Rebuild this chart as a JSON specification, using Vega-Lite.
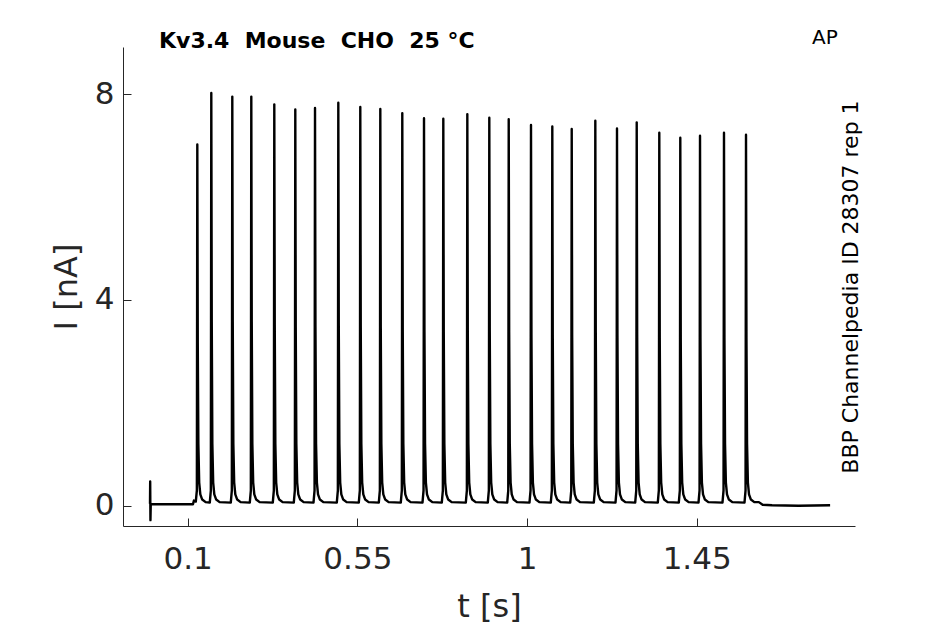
{
  "$schema": "https://vega.github.io/schema/vega-lite/v6.json",
  "autosize": "none",
  "width": 732,
  "height": 479,
  "padding": {"left": 123, "top": 47, "right": 90, "bottom": 98},
  "background": "white",
  "title": {
    "text": "Kv3.4\u00a0\u00a0Mouse\u00a0\u00a0CHO\u00a0\u00a025 °C",
    "anchor": "start",
    "frame": "group",
    "dx": 36,
    "offset": -25,
    "font": "DejaVu Sans",
    "fontSize": 22,
    "fontWeight": "bold",
    "color": "black"
  },
  "layer": [
    {
      "data": {
        "values": [
          {"t":0.0,"I":0.04},{"t":0.0005,"I":0.47},{"t":0.0012,"I":-0.28},{"t":0.002,"I":0.03},{"t":0.05,"I":0.03},{"t":0.114,"I":0.03},
          {"t":0.1165,"I":0.1},{"t":0.1215,"I":0.08},{"t":0.1243,"I":0.3},{"t":0.1255,"I":7.02},{"t":0.1267,"I":3.16},{"t":0.1283,"I":1.2},{"t":0.1305,"I":0.45},{"t":0.1335,"I":0.22},{"t":0.1385,"I":0.12},{"t":0.1475,"I":0.07},
          {"t":0.1586,"I":0.06},{"t":0.1614,"I":0.3},{"t":0.1626,"I":8.02},{"t":0.1638,"I":3.61},{"t":0.1654,"I":1.2},{"t":0.1676,"I":0.45},{"t":0.1706,"I":0.22},{"t":0.1756,"I":0.12},{"t":0.1846,"I":0.07},
          {"t":0.2143,"I":0.06},{"t":0.2171,"I":0.3},{"t":0.2183,"I":7.95},{"t":0.2195,"I":3.58},{"t":0.2211,"I":1.2},{"t":0.2233,"I":0.45},{"t":0.2263,"I":0.22},{"t":0.2313,"I":0.12},{"t":0.2403,"I":0.07},
          {"t":0.2647,"I":0.06},{"t":0.2675,"I":0.3},{"t":0.2687,"I":7.95},{"t":0.2699,"I":3.58},{"t":0.2715,"I":1.2},{"t":0.2737,"I":0.45},{"t":0.2767,"I":0.22},{"t":0.2817,"I":0.12},{"t":0.2907,"I":0.07},
          {"t":0.3257,"I":0.06},{"t":0.3285,"I":0.3},{"t":0.3297,"I":7.8},{"t":0.3309,"I":3.51},{"t":0.3325,"I":1.2},{"t":0.3347,"I":0.45},{"t":0.3377,"I":0.22},{"t":0.3427,"I":0.12},{"t":0.3517,"I":0.07},
          {"t":0.3814,"I":0.06},{"t":0.3842,"I":0.3},{"t":0.3854,"I":7.7},{"t":0.3866,"I":3.47},{"t":0.3882,"I":1.2},{"t":0.3904,"I":0.45},{"t":0.3934,"I":0.22},{"t":0.3984,"I":0.12},{"t":0.4074,"I":0.07},
          {"t":0.4337,"I":0.06},{"t":0.4365,"I":0.3},{"t":0.4377,"I":7.73},{"t":0.4389,"I":3.48},{"t":0.4405,"I":1.2},{"t":0.4427,"I":0.45},{"t":0.4457,"I":0.22},{"t":0.4507,"I":0.12},{"t":0.4597,"I":0.07},
          {"t":0.4955,"I":0.06},{"t":0.4983,"I":0.3},{"t":0.4995,"I":7.83},{"t":0.5007,"I":3.52},{"t":0.5023,"I":1.2},{"t":0.5045,"I":0.45},{"t":0.5075,"I":0.22},{"t":0.5125,"I":0.12},{"t":0.5215,"I":0.07},
          {"t":0.5538,"I":0.06},{"t":0.5566,"I":0.3},{"t":0.5578,"I":7.75},{"t":0.559,"I":3.49},{"t":0.5606,"I":1.2},{"t":0.5628,"I":0.45},{"t":0.5658,"I":0.22},{"t":0.5708,"I":0.12},{"t":0.5798,"I":0.07},
          {"t":0.6069,"I":0.06},{"t":0.6097,"I":0.3},{"t":0.6109,"I":7.71},{"t":0.6121,"I":3.47},{"t":0.6137,"I":1.2},{"t":0.6159,"I":0.45},{"t":0.6189,"I":0.22},{"t":0.6239,"I":0.12},{"t":0.6329,"I":0.07},
          {"t":0.6652,"I":0.06},{"t":0.668,"I":0.3},{"t":0.6692,"I":7.63},{"t":0.6704,"I":3.43},{"t":0.672,"I":1.2},{"t":0.6742,"I":0.45},{"t":0.6772,"I":0.22},{"t":0.6822,"I":0.12},{"t":0.6912,"I":0.07},
          {"t":0.7228,"I":0.06},{"t":0.7256,"I":0.3},{"t":0.7268,"I":7.53},{"t":0.728,"I":3.39},{"t":0.7296,"I":1.2},{"t":0.7318,"I":0.45},{"t":0.7348,"I":0.22},{"t":0.7398,"I":0.12},{"t":0.7488,"I":0.07},
          {"t":0.774,"I":0.06},{"t":0.7768,"I":0.3},{"t":0.778,"I":7.52},{"t":0.7792,"I":3.38},{"t":0.7808,"I":1.2},{"t":0.783,"I":0.45},{"t":0.786,"I":0.22},{"t":0.791,"I":0.12},{"t":0.8,"I":0.07},
          {"t":0.8377,"I":0.06},{"t":0.8405,"I":0.3},{"t":0.8417,"I":7.61},{"t":0.8429,"I":3.42},{"t":0.8445,"I":1.2},{"t":0.8467,"I":0.45},{"t":0.8497,"I":0.22},{"t":0.8547,"I":0.12},{"t":0.8637,"I":0.07},
          {"t":0.896,"I":0.06},{"t":0.8988,"I":0.3},{"t":0.9,"I":7.54},{"t":0.9012,"I":3.39},{"t":0.9028,"I":1.2},{"t":0.905,"I":0.45},{"t":0.908,"I":0.22},{"t":0.913,"I":0.12},{"t":0.922,"I":0.07},
          {"t":0.9475,"I":0.06},{"t":0.9503,"I":0.3},{"t":0.9515,"I":7.51},{"t":0.9527,"I":3.38},{"t":0.9543,"I":1.2},{"t":0.9565,"I":0.45},{"t":0.9595,"I":0.22},{"t":0.9645,"I":0.12},{"t":0.9735,"I":0.07},
          {"t":1.0066,"I":0.06},{"t":1.0094,"I":0.3},{"t":1.0106,"I":7.4},{"t":1.0118,"I":3.33},{"t":1.0134,"I":1.2},{"t":1.0156,"I":0.45},{"t":1.0186,"I":0.22},{"t":1.0236,"I":0.12},{"t":1.0326,"I":0.07},
          {"t":1.0631,"I":0.06},{"t":1.0659,"I":0.3},{"t":1.0671,"I":7.37},{"t":1.0683,"I":3.32},{"t":1.0699,"I":1.2},{"t":1.0721,"I":0.45},{"t":1.0751,"I":0.22},{"t":1.0801,"I":0.12},{"t":1.0891,"I":0.07},
          {"t":1.1146,"I":0.06},{"t":1.1174,"I":0.3},{"t":1.1186,"I":7.32},{"t":1.1198,"I":3.29},{"t":1.1214,"I":1.2},{"t":1.1236,"I":0.45},{"t":1.1266,"I":0.22},{"t":1.1316,"I":0.12},{"t":1.1406,"I":0.07},
          {"t":1.1772,"I":0.06},{"t":1.18,"I":0.3},{"t":1.1812,"I":7.48},{"t":1.1824,"I":3.37},{"t":1.184,"I":1.2},{"t":1.1862,"I":0.45},{"t":1.1892,"I":0.22},{"t":1.1942,"I":0.12},{"t":1.2032,"I":0.07},
          {"t":1.2347,"I":0.06},{"t":1.2375,"I":0.3},{"t":1.2387,"I":7.33},{"t":1.2399,"I":3.3},{"t":1.2415,"I":1.2},{"t":1.2437,"I":0.45},{"t":1.2467,"I":0.22},{"t":1.2517,"I":0.12},{"t":1.2607,"I":0.07},
          {"t":1.287,"I":0.06},{"t":1.2898,"I":0.3},{"t":1.291,"I":7.45},{"t":1.2922,"I":3.35},{"t":1.2938,"I":1.2},{"t":1.296,"I":0.45},{"t":1.299,"I":0.22},{"t":1.304,"I":0.12},{"t":1.313,"I":0.07},
          {"t":1.3469,"I":0.06},{"t":1.3497,"I":0.3},{"t":1.3509,"I":7.25},{"t":1.3521,"I":3.26},{"t":1.3537,"I":1.2},{"t":1.3559,"I":0.45},{"t":1.3589,"I":0.22},{"t":1.3639,"I":0.12},{"t":1.3729,"I":0.07},
          {"t":1.4026,"I":0.06},{"t":1.4054,"I":0.3},{"t":1.4066,"I":7.15},{"t":1.4078,"I":3.22},{"t":1.4094,"I":1.2},{"t":1.4116,"I":0.45},{"t":1.4146,"I":0.22},{"t":1.4196,"I":0.12},{"t":1.4286,"I":0.07},
          {"t":1.4549,"I":0.06},{"t":1.4577,"I":0.3},{"t":1.4589,"I":7.19},{"t":1.4601,"I":3.24},{"t":1.4617,"I":1.2},{"t":1.4639,"I":0.45},{"t":1.4669,"I":0.22},{"t":1.4719,"I":0.12},{"t":1.4809,"I":0.07},
          {"t":1.5185,"I":0.06},{"t":1.5213,"I":0.3},{"t":1.5225,"I":7.25},{"t":1.5237,"I":3.26},{"t":1.5253,"I":1.2},{"t":1.5275,"I":0.45},{"t":1.5305,"I":0.22},{"t":1.5355,"I":0.12},{"t":1.5445,"I":0.07},
          {"t":1.5769,"I":0.06},{"t":1.5797,"I":0.3},{"t":1.5809,"I":7.21},{"t":1.5821,"I":3.24},{"t":1.5837,"I":1.2},{"t":1.5859,"I":0.45},{"t":1.5889,"I":0.22},{"t":1.5939,"I":0.12},{"t":1.6029,"I":0.07},
          {"t":1.615,"I":0.07},{"t":1.625,"I":0.02},{"t":1.65,"I":0.01},{"t":1.72,"I":0.0},{"t":1.804,"I":0.01}
        ]
      },
      "mark": {"type": "line", "color": "black", "strokeWidth": 2.4, "strokeJoin": "round"},
      "encoding": {
        "x": {
          "field": "t",
          "type": "quantitative",
          "title": "t [s]",
          "scale": {"domain": [-0.0716, 1.87], "nice": false, "zero": false},
          "axis": {"values": [0.1, 0.55, 1, 1.45], "format": ".2~f"}
        },
        "y": {
          "field": "I",
          "type": "quantitative",
          "title": "I [nA]",
          "scale": {"domain": [-0.394, 8.914], "nice": false, "zero": false},
          "axis": {"values": [0, 4, 8]}
        }
      }
    },
    {
      "data": {"values": [{}]},
      "mark": {"type": "text", "font": "DejaVu Sans", "fontSize": 20, "color": "black", "align": "center", "baseline": "middle"},
      "encoding": {
        "x": {"datum": 1.79, "type": "quantitative", "scale": {"domain": [-0.0716, 1.87], "nice": false, "zero": false}},
        "y": {"datum": 9.09, "type": "quantitative", "scale": {"domain": [-0.394, 8.914], "nice": false, "zero": false}},
        "text": {"value": "AP"}
      }
    },
    {
      "data": {"values": [{}]},
      "mark": {"type": "text", "font": "DejaVu Sans", "fontSize": 22, "color": "black", "align": "center", "baseline": "middle", "angle": 270},
      "encoding": {
        "x": {"datum": 1.86, "type": "quantitative", "scale": {"domain": [-0.0716, 1.87], "nice": false, "zero": false}},
        "y": {"datum": 4.25, "type": "quantitative", "scale": {"domain": [-0.394, 8.914], "nice": false, "zero": false}},
        "text": {"value": "BBP Channelpedia ID 28307 rep 1"}
      }
    }
  ],
  "config": {
    "view": {"stroke": null},
    "font": "DejaVu Sans",
    "axis": {
      "grid": false,
      "domainColor": "#262626",
      "domainWidth": 1,
      "tickColor": "#262626",
      "tickSize": -8,
      "tickWidth": 1,
      "labelFont": "DejaVu Sans",
      "labelFontSize": 31,
      "labelColor": "#262626",
      "titleFont": "DejaVu Sans",
      "titleFontSize": 32,
      "titleFontWeight": "normal",
      "titleColor": "#262626"
    },
    "axisX": {"labelPadding": 26, "titlePadding": 17},
    "axisY": {"labelPadding": 17, "titlePadding": 11}
  }
}
